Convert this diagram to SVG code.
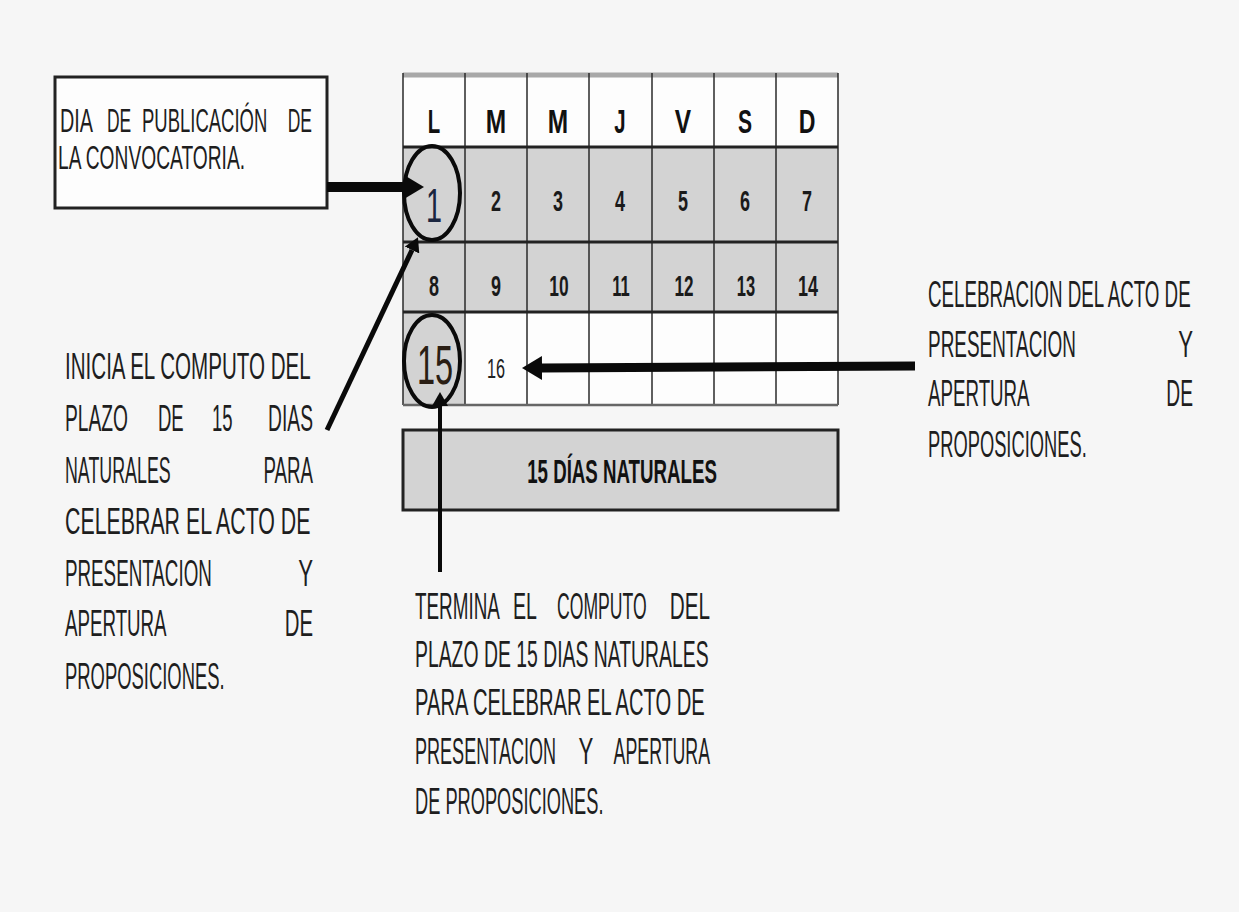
<svg xmlns="http://www.w3.org/2000/svg" width="1239" height="912" viewBox="0 0 1239 912">
<style>
.ann{font-family:"Liberation Sans",Arial,sans-serif;font-size:37px;fill:#1e1e1e}
.box{font-size:33px}
.hd{font-family:"Liberation Sans",Arial,sans-serif;font-weight:bold;font-size:34px;fill:#111;text-anchor:middle}
.num{font-family:"Liberation Sans",Arial,sans-serif;font-weight:bold;font-size:30px;fill:#1a1a1a;text-anchor:middle}
.big{font-family:"Liberation Sans",Arial,sans-serif;text-anchor:middle}
.end{text-anchor:end}
.mid{text-anchor:middle}
.gl{stroke:#2a2a2a;stroke-width:1.5}
.hl{stroke:#222;stroke-width:3}
.gray{fill:#d3d3d3}
.conn{stroke:#0a0a0a;fill:none}
</style>
<defs>
<marker id="ahBig" markerUnits="userSpaceOnUse" markerWidth="20" markerHeight="24" refX="0" refY="12" orient="auto">
<path d="M0,0 L20,12 L0,24 z" fill="#0a0a0a"/>
</marker>
<marker id="ahSmall" markerUnits="userSpaceOnUse" markerWidth="14" markerHeight="16" refX="0" refY="8" orient="auto">
<path d="M0,0 L14,8 L0,16 z" fill="#0a0a0a"/>
</marker>
</defs>
<rect width="1239" height="912" fill="#f6f6f6"/>

<g id="calendar">
<rect x="403" y="75" width="435" height="72" fill="#fdfdfd"/>
<rect class="gray" x="403" y="147" width="435" height="165"/>
<rect x="403" y="312" width="435" height="93" fill="#fdfdfd"/>
<rect class="gray" x="403" y="312" width="62" height="93"/>
<line x1="403" y1="75" x2="838" y2="75" stroke="#a8a8a8" stroke-width="5"/>
<g class="gl">
<line x1="403" y1="73" x2="403" y2="405"/>
<line x1="465" y1="73" x2="465" y2="405"/>
<line x1="527" y1="73" x2="527" y2="405"/>
<line x1="589" y1="73" x2="589" y2="405"/>
<line x1="652" y1="73" x2="652" y2="405"/>
<line x1="714" y1="73" x2="714" y2="405"/>
<line x1="776" y1="73" x2="776" y2="405"/>
<line x1="838" y1="73" x2="838" y2="405"/>
</g>
<line class="hl" x1="403" y1="147" x2="838" y2="147"/>
<line class="hl" x1="403" y1="242" x2="838" y2="242"/>
<line class="hl" x1="403" y1="312" x2="838" y2="312"/>
<line x1="403" y1="405" x2="838" y2="405" stroke="#666" stroke-width="2.5"/>
<text class="hd" transform="translate(434,133) scale(0.6,1)">L</text>
<text class="hd" transform="translate(496,133) scale(0.72,1)">M</text>
<text class="hd" transform="translate(558,133) scale(0.72,1)">M</text>
<text class="hd" transform="translate(620,133) scale(0.6,1)">J</text>
<text class="hd" transform="translate(683,133) scale(0.72,1)">V</text>
<text class="hd" transform="translate(745,133) scale(0.62,1)">S</text>
<text class="hd" transform="translate(807,133) scale(0.68,1)">D</text>
<text class="big" font-size="48" fill="#1b2640" transform="translate(434,222) scale(0.6,1)">1</text>
<text class="num" transform="translate(496,211) scale(0.6,1)">2</text>
<text class="num" transform="translate(558,211) scale(0.6,1)">3</text>
<text class="num" transform="translate(620,211) scale(0.6,1)">4</text>
<text class="num" transform="translate(683,211) scale(0.6,1)">5</text>
<text class="num" transform="translate(745,211) scale(0.6,1)">6</text>
<text class="num" transform="translate(807,211) scale(0.6,1)">7</text>
<text class="num" transform="translate(434,296) scale(0.6,1)">8</text>
<text class="num" transform="translate(496,296) scale(0.6,1)">9</text>
<text class="num" transform="translate(559,296) scale(0.58,1)">10</text>
<text class="num" transform="translate(621,296) scale(0.55,1)">11</text>
<text class="num" transform="translate(684,296) scale(0.57,1)">12</text>
<text class="num" transform="translate(746,296) scale(0.55,1)">13</text>
<text class="num" transform="translate(808,296) scale(0.6,1)">14</text>
<text class="big" font-size="56" fill="#2a1e14" transform="translate(435,384) scale(0.58,1)">15</text>
<text class="big" font-size="28" fill="#222" transform="translate(496,378) scale(0.58,1)">16</text>
<ellipse cx="432" cy="193" rx="28" ry="47" fill="none" stroke="#0a0a0a" stroke-width="4"/>
<ellipse cx="432" cy="361" rx="28" ry="46" fill="none" stroke="#0a0a0a" stroke-width="4"/>
</g>

<g id="bar">
<rect class="gray" x="403" y="430" width="435" height="80" stroke="#222" stroke-width="3"/>
<text class="hd" transform="translate(622,483) scale(0.55,1)">15 DÍAS NATURALES</text>
</g>

<g id="publicacion">
<rect x="55" y="77" width="272" height="131" fill="#fdfdfd" stroke="#222" stroke-width="3"/>
<text class="ann box" transform="translate(60,132) scale(0.6,1)">DIA</text>
<text class="ann box" transform="translate(107,132) scale(0.53,1)">DE</text>
<text class="ann box" transform="translate(142,132) scale(0.56,1)">PUBLICACIÓN</text>
<text class="ann box end" transform="translate(312,132) scale(0.53,1)">DE</text>
<text class="ann box" transform="translate(58,169) scale(0.582,1)">LA CONVOCATORIA.</text>
</g>

<g id="inicia">
<text class="ann" transform="translate(65,379) scale(0.556,1)">INICIA EL COMPUTO DEL</text>
<text class="ann" transform="translate(65,431) scale(0.52,1)">PLAZO</text>
<text class="ann" transform="translate(158,431) scale(0.5,1)">DE</text>
<text class="ann" transform="translate(212,431) scale(0.5,1)">15</text>
<text class="ann end" transform="translate(313,431) scale(0.52,1)">DIAS</text>
<text class="ann" transform="translate(65,483) scale(0.482,1)">NATURALES</text>
<text class="ann end" transform="translate(313,483) scale(0.506,1)">PARA</text>
<text class="ann" transform="translate(65,534) scale(0.577,1)">CELEBRAR EL ACTO DE</text>
<text class="ann" transform="translate(65,586) scale(0.508,1)">PRESENTACION</text>
<text class="ann end" transform="translate(313,586) scale(0.6,1)">Y</text>
<text class="ann" transform="translate(65,636) scale(0.506,1)">APERTURA</text>
<text class="ann end" transform="translate(313,636) scale(0.55,1)">DE</text>
<text class="ann" transform="translate(65,689) scale(0.498,1)">PROPOSICIONES.</text>
</g>

<g id="celebracion">
<text class="ann" transform="translate(928,307) scale(0.507,1)">CELEBRACION DEL ACTO DE</text>
<text class="ann" transform="translate(928,357) scale(0.512,1)">PRESENTACION</text>
<text class="ann end" transform="translate(1193,357) scale(0.6,1)">Y</text>
<text class="ann" transform="translate(928,406) scale(0.506,1)">APERTURA</text>
<text class="ann end" transform="translate(1193,406) scale(0.52,1)">DE</text>
<text class="ann" transform="translate(928,457) scale(0.495,1)">PROPOSICIONES.</text>
</g>

<g id="termina">
<text class="ann" transform="translate(415,619) scale(0.51,1)">TERMINA</text>
<text class="ann" transform="translate(513,619) scale(0.53,1)">EL</text>
<text class="ann" transform="translate(557,619) scale(0.476,1)">COMPUTO</text>
<text class="ann end" transform="translate(710,619) scale(0.56,1)">DEL</text>
<text class="ann" transform="translate(415,667) scale(0.524,1)">PLAZO DE 15 DIAS NATURALES</text>
<text class="ann" transform="translate(415,715) scale(0.545,1)">PARA CELEBRAR EL ACTO DE</text>
<text class="ann" transform="translate(415,764) scale(0.488,1)">PRESENTACION</text>
<text class="ann mid" transform="translate(586,764) scale(0.6,1)">Y</text>
<text class="ann end" transform="translate(710,764) scale(0.48,1)">APERTURA</text>
<text class="ann" transform="translate(415,814) scale(0.493,1)">DE PROPOSICIONES.</text>
</g>

<g id="connectors">
<line class="conn" x1="327" y1="187" x2="404" y2="187" stroke-width="10" marker-end="url(#ahBig)"/>
<line class="conn" x1="327" y1="430" x2="412" y2="250" stroke-width="5" marker-end="url(#ahSmall)"/>
<line class="conn" x1="440" y1="572" x2="440" y2="406" stroke-width="4" marker-end="url(#ahSmall)"/>
<line class="conn" x1="915" y1="366" x2="542" y2="368" stroke-width="9" marker-end="url(#ahBig)"/>
</g>
</svg>
